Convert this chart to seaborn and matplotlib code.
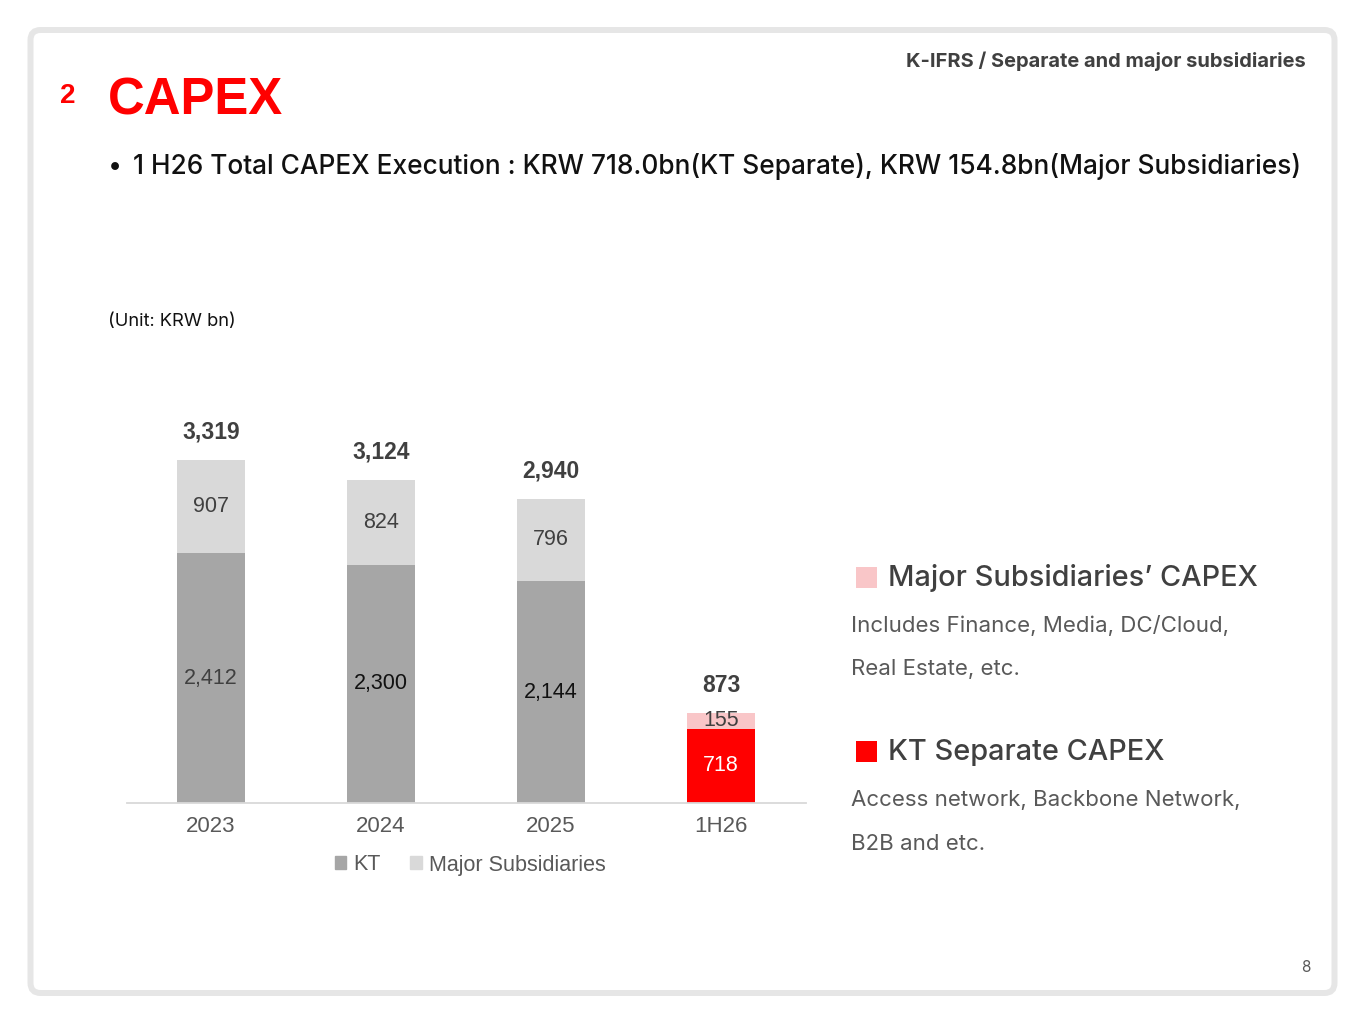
import matplotlib
matplotlib.use('Agg')
import matplotlib.pyplot as plt
import seaborn as sns
import pandas as pd
from matplotlib.patches import FancyBboxPatch, Rectangle, Patch

# ---------------- data ----------------
periods = ['2023', '2024', '2025', '1H26']
kt_capex = [2412, 2300, 2144, 718]
subs_capex = [907, 824, 796, 155]
total_capex = [3319, 3124, 2940, 873]
kt_labels = ['2,412', '2,300', '2,144', '718']
subs_labels = ['907', '824', '796', '155']
total_labels = ['3,319', '3,124', '2,940', '873']
legend_labels = ['KT', 'Major Subsidiaries']

kt_colors = ['#a6a6a6', '#a6a6a6', '#a6a6a6', '#ff0000']
subs_colors = ['#d9d9d9', '#d9d9d9', '#d9d9d9', '#f9c6c8']
kt_text_colors = ['#404040', '#111111', '#111111', '#ffffff']
subs_text_colors = ['#404040', '#404040', '#404040', '#404040']

sns.set_theme(style='white')
plt.rcParams['font.family'] = ['Liberation Sans', 'DejaVu Sans']

W, H = 1365, 1024
fig = plt.figure(figsize=(13.65, 10.24), dpi=100)
fig.patch.set_facecolor('white')

# background / page axes in pixel coordinates
bg = fig.add_axes([0, 0, 1, 1])
bg.set_xlim(0, W)
bg.set_ylim(H, 0)
bg.axis('off')

border = FancyBboxPatch((30.5, 30), 1304, 963,
                        boxstyle='round,pad=0,rounding_size=10',
                        fc='white', ec='#e6e6e6', lw=4.3)
bg.add_patch(border)

renderer = fig.canvas.get_renderer()


def fit(t, target_w):
    bb = t.get_window_extent(renderer)
    t.set_fontsize(t.get_fontsize() * target_w / bb.width)
    return t.get_fontsize()


UI = ['Inter', 'Noto Sans', 'DejaVu Sans']
RED = '#ff0000'

# header
t = bg.text(1306, 61, 'K-IFRS / Separate and major subsidiaries', ha='right', va='center',
            fontsize=14, fontweight='bold', color='#404040', family=UI)
fit(t, 401)

bg.text(60, 96, '2', ha='left', va='center', fontsize=20, fontweight='bold', color=RED,
        family=['Liberation Sans'])
t = bg.text(108, 101, 'CAPEX', ha='left', va='center', fontsize=40, fontweight='bold',
            color=RED, family=['Liberation Sans Narrow', 'Liberation Sans'])
fit(t, 175)

bg.text(108, 166, '•', ha='left', va='center', fontsize=18, color='#111111', family=UI)
t = bg.text(133, 166, '1 H26 Total CAPEX Execution : KRW 718.0bn(KT Separate), KRW 154.8bn(Major Subsidiaries)',
            ha='left', va='center', fontsize=18, fontweight='medium', color='#111111', family=UI)
fit(t, 1166)

t = bg.text(108, 321, '(Unit: KRW bn)', ha='left', va='center', fontsize=13, color='#111111', family=UI)
fit(t, 128)

bg.text(1306, 968, '8', ha='center', va='center', fontsize=11, color='#595959', family=UI)

# right-side explanation
bg.add_patch(Rectangle((856, 567), 21, 21, fc=subs_colors[3], ec='none'))
bg.add_patch(Rectangle((856, 741), 21, 21, fc=kt_colors[3], ec='none'))
t1 = bg.text(888, 578, 'Major Subsidiaries’ CAPEX', ha='left', va='center', fontsize=20,
             fontweight='medium', color='#404040', family=UI)
fs_head = fit(t1, 369)
bg.text(888, 752, 'KT Separate CAPEX', ha='left', va='center', fontsize=fs_head,
        fontweight='medium', color='#404040', family=UI)
t2 = bg.text(851, 626, 'Includes Finance, Media, DC/Cloud,', ha='left', va='center', fontsize=16,
             color='#595959', family=UI)
fs_body = fit(t2, 378)
for y, s in [(669, 'Real Estate, etc.'), (800, 'Access network, Backbone Network,'),
             (844, 'B2B and etc.')]:
    bg.text(851, y, s, ha='left', va='center', fontsize=fs_body, color='#595959', family=UI)

# ---------------- chart ----------------
df = pd.DataFrame({'period': periods, 'kt': kt_capex, 'subs': subs_capex, 'total': total_capex})

ax = fig.add_axes([127 / W, 1 - 803 / H, (806 - 127) / W, 403.6 / H])
ax.set_facecolor('none')
sns.barplot(data=df, x='period', y='total', hue='period', palette=subs_colors, legend=False,
            width=0.4, saturation=1, errorbar=None, linewidth=0, edgecolor='none', ax=ax)
sns.barplot(data=df, x='period', y='kt', hue='period', palette=kt_colors, legend=False,
            width=0.4, saturation=1, errorbar=None, linewidth=0, edgecolor='none', ax=ax)
ax.set_ylim(0, 3900)
ax.set_xlim(-0.494, 3.5)
ax.set_xlabel('')
ax.set_ylabel('')
ax.set_yticks([])
sns.despine(ax=ax, left=True)
ax.spines['bottom'].set_color('#d9d9d9')
ax.spines['bottom'].set_linewidth(1.3)
ax.tick_params(axis='x', length=0, pad=9, labelsize=16, labelcolor='#595959')

for i in range(len(periods)):
    ax.text(i, kt_capex[i] / 2, kt_labels[i], ha='center', va='center', fontsize=15.5,
            color=kt_text_colors[i])
    ax.text(i, kt_capex[i] + subs_capex[i] / 2, subs_labels[i], ha='center', va='center',
            fontsize=15.5, color=subs_text_colors[i])
    ax.annotate(total_labels[i], (i, total_capex[i]), xytext=(0, 15), textcoords='offset points',
                ha='center', va='baseline', fontsize=16.5, fontweight='bold', color='#404040')

handles = [Patch(color='#a6a6a6', label=legend_labels[0]),
           Patch(color='#d9d9d9', label=legend_labels[1])]
fig.legend(handles=handles, loc='center', bbox_to_anchor=(470 / W, 1 - 865 / H), ncol=2,
           frameon=False, handlelength=0.55, handleheight=0.55, handletextpad=0.3,
           columnspacing=1.4, fontsize=15.5, labelcolor='#595959')

fig.savefig('out.png', dpi=100)
